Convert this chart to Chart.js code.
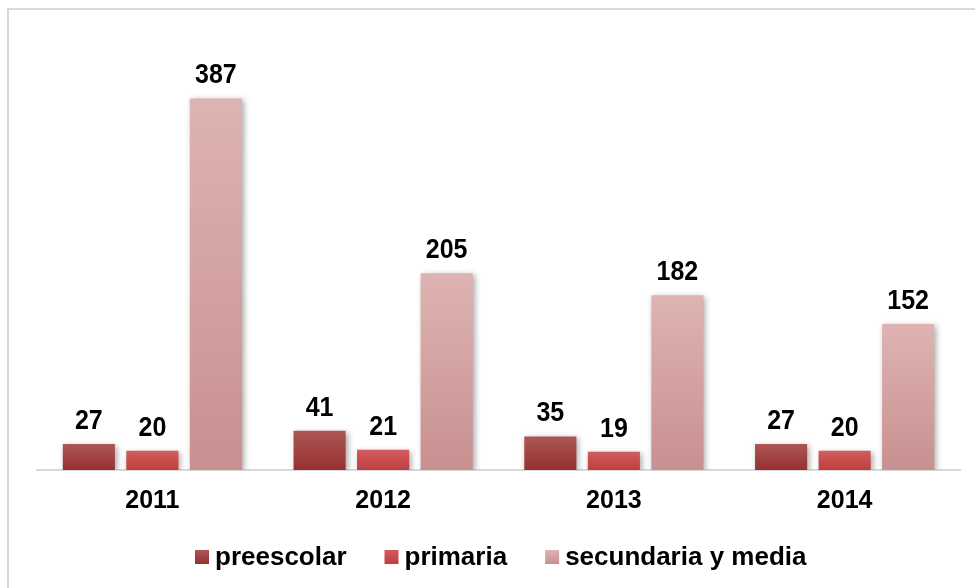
<!DOCTYPE html>
<html>
<head>
<meta charset="utf-8">
<script src="https://cdn.jsdelivr.net/npm/chart.js@4/dist/chart.umd.min.js"></script>
<style>
html,body{margin:0;padding:0;background:#fff;}
#wrap{width:975px;height:588px;position:relative;}
</style>
</head>
<body>
<div id="wrap"><canvas id="c" width="975" height="588"></canvas></div>
<script>
const categories = ['2011', '2012', '2013', '2014'];
const preescolar = [27, 41, 35, 27];
const primaria = [20, 21, 19, 20];
const secundariaYMedia = [387, 205, 182, 152];
const seriesNames = ['preescolar', 'primaria', 'secundaria y media'];

const FONT = '"Liberation Sans", Arial, sans-serif';
const TOPS = ['#ad5656', '#d25c5c', '#dfb3b3'];
const BOTTOMS = ['#963030', '#bf3e3e', '#c89090'];

function grad(i) {
  return function(ctx) {
    const chart = ctx.chart;
    const ys = chart.scales && chart.scales.y;
    if (!ys || ctx.type !== 'data' || !chart.chartArea) return BOTTOMS[i];
    const y0 = ys.getPixelForValue(ctx.raw);
    const y1 = ys.getPixelForValue(0);
    if (!isFinite(y0) || !isFinite(y1) || y0 === y1) return BOTTOMS[i];
    const g = chart.ctx.createLinearGradient(0, y0, 0, y1);
    g.addColorStop(0, TOPS[i]);
    g.addColorStop(1, BOTTOMS[i]);
    return g;
  };
}

const frame = {
  id: 'frame',
  beforeDraw(chart) {
    const c = chart.ctx;
    c.save();
    c.fillStyle = '#fff';
    c.fillRect(0, 0, chart.width, chart.height);
    c.strokeStyle = '#d9d9d9';
    c.lineWidth = 2;
    c.beginPath();
    c.moveTo(8, chart.height);
    c.lineTo(8, 9);
    c.lineTo(chart.width, 9);
    c.stroke();
    c.restore();
  }
};

const shadow = {
  id: 'shadow',
  beforeDatasetsDraw(chart) {
    const c = chart.ctx;
    c.save();
    c.shadowColor = 'rgba(0,0,0,0.35)';
    c.shadowBlur = 6;
    c.shadowOffsetX = 2;
    c.shadowOffsetY = 2;
  },
  afterDatasetsDraw(chart) {
    chart.ctx.restore();
  }
};

const labels = {
  id: 'valueLabels',
  afterDatasetsDraw(chart) {
    const c = chart.ctx;
    c.fillStyle = '#000';
    c.font = 'bold 25px ' + FONT;
    c.textAlign = 'center';
    c.textBaseline = 'alphabetic';
    chart.data.datasets.forEach((ds, i) => {
      const meta = chart.getDatasetMeta(i);
      meta.data.forEach((bar, j) => {
        c.save();
        c.translate(bar.x, bar.y - 15);
        c.scale(1, 1.12);
        c.fillText(String(ds.data[j]), 0, 0);
        c.restore();
      });
    });
  }
};

const customLegend = {
  id: 'customLegend',
  afterDraw(chart) {
    const c = chart.ctx;
    c.save();
    c.font = 'bold 26px ' + FONT;
    c.textBaseline = 'middle';
    c.textAlign = 'left';
    let x = 195;
    const yc = 557;
    chart.data.datasets.forEach((ds, i) => {
      const g = c.createLinearGradient(0, yc - 7, 0, yc + 7);
      g.addColorStop(0, TOPS[i]);
      g.addColorStop(1, BOTTOMS[i]);
      c.fillStyle = g;
      c.fillRect(x, yc - 7, 14, 14);
      x += 14 + 6;
      c.fillStyle = '#000';
      c.fillText(ds.label, x, yc + 1);
      x += c.measureText(ds.label).width + 38;
    });
    c.restore();
  }
};

new Chart(document.getElementById('c'), {
  type: 'bar',
  data: {
    labels: categories,
    datasets: [
      { label: seriesNames[0], data: preescolar, backgroundColor: grad(0) },
      { label: seriesNames[1], data: primaria, backgroundColor: grad(1) },
      { label: seriesNames[2], data: secundariaYMedia, backgroundColor: grad(2) }
    ]
  },
  options: {
    responsive: false,
    animation: false,
    devicePixelRatio: 1,
    categoryPercentage: 0.826,
    barPercentage: 0.82,
    layout: { padding: { top: 86, left: 37, right: 15, bottom: 56 } },
    plugins: {
      legend: { display: false },
      tooltip: { enabled: false }
    },
    scales: {
      x: {
        grid: { display: false, drawTicks: false },
        border: { color: '#d9d9d9', width: 2 },
        ticks: { color: '#000', font: { family: FONT, size: 25, weight: 'bold' }, padding: 16 }
      },
      y: { display: false, min: 0, max: 400 }
    }
  },
  plugins: [frame, shadow, labels, customLegend]
});
</script>
</body>
</html>
